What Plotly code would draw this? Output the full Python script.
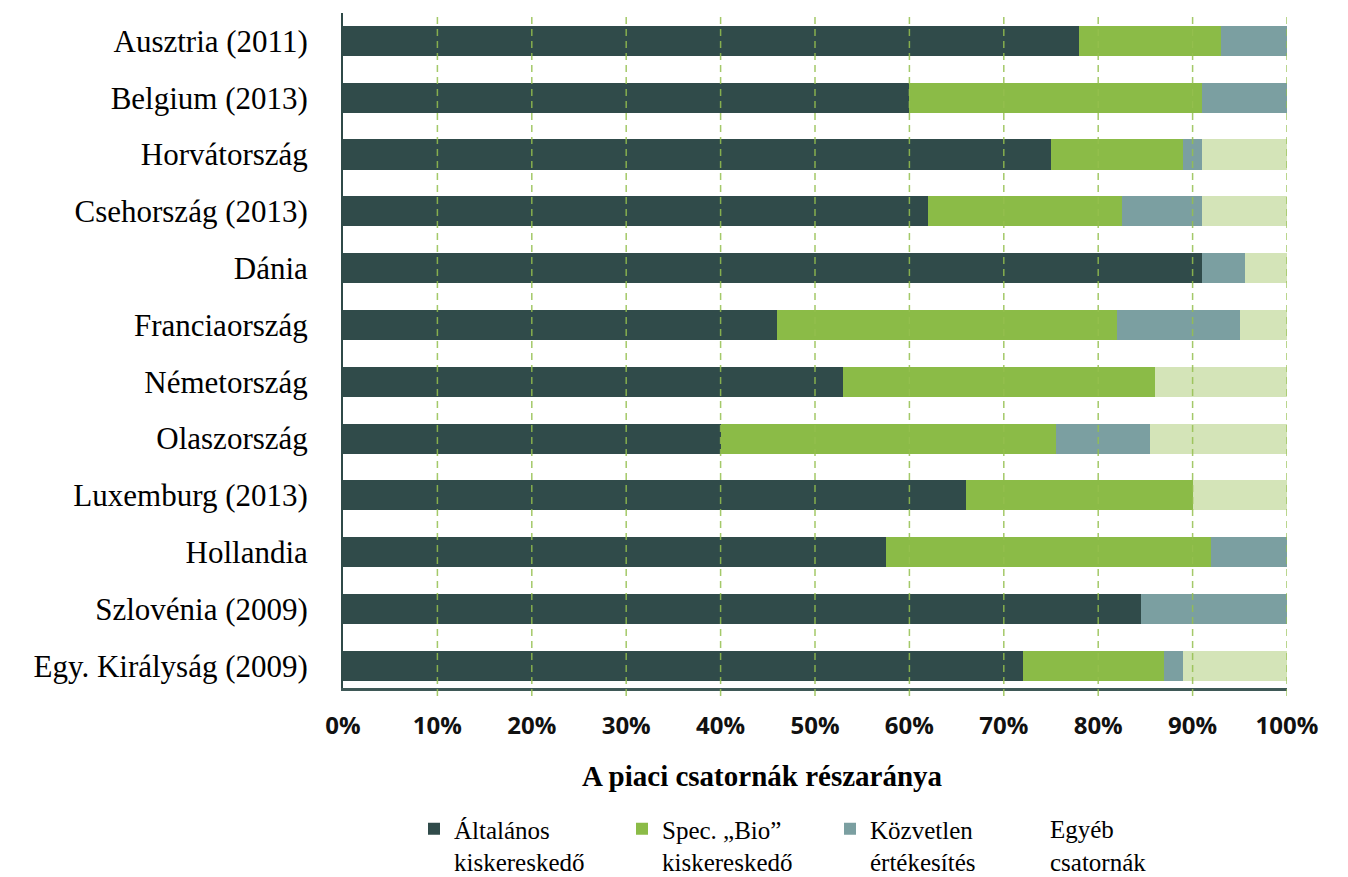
import plotly.graph_objects as go

countries = ["Ausztria (2011)", "Belgium (2013)", "Horvátország", "Csehország (2013)",
             "Dánia", "Franciaország", "Németország", "Olaszország",
             "Luxemburg (2013)", "Hollandia", "Szlovénia (2009)", "Egy. Királyság (2009)"]

altalanos = [78, 60, 75, 62, 91, 46, 53, 40, 66, 57.5, 84.5, 72]
bio = [15, 31, 14, 20.5, 0, 36, 33, 35.5, 24, 34.5, 0, 15]
kozvetlen = [7, 9, 2, 8.5, 4.5, 13, 0, 10, 0, 8, 15.5, 2]
egyeb = [0, 0, 9, 9, 4.5, 5, 14, 14.5, 10, 0, 0, 11]

series_names = ["Általános<br>kiskereskedő", "Spec. „Bio”<br>kiskereskedő",
                "Közvetlen<br>értékesítés", "Egyéb<br>csatornák"]
tick_vals = [0, 10, 20, 30, 40, 50, 60, 70, 80, 90, 100]
tick_text = ["0%", "10%", "20%", "30%", "40%", "50%", "60%", "70%", "80%", "90%", "100%"]

colors = ["#304b4a", "#8bbb47", "#7b9fa1", "#d4e4b8"]

fig = go.Figure()
for vals, name, col in zip([altalanos, bio, kozvetlen, egyeb], series_names, colors):
    fig.add_trace(go.Bar(x=vals, y=countries, orientation="h", name=name,
                         marker=dict(color=col, line=dict(width=0)),
                         showlegend=False))
# legend entries (the last category has no swatch in the original, it is added as text)
for name, col in zip(series_names[:3], colors[:3]):
    fig.add_trace(go.Bar(x=[None], y=[countries[0]], orientation="h", name=name,
                         marker=dict(color=col, line=dict(width=0)), showlegend=True))

fig.add_annotation(text=series_names[3], xref="paper", yref="paper",
                   x=(1048 - 343) / 944, xanchor="left", align="left",
                   y=-(814 - 688) / 675, yanchor="top", showarrow=False,
                   font=dict(family="Liberation Serif", size=25, color="#000"))

# dashed gridlines drawn above the bars
for v in tick_vals[1:]:
    fig.add_shape(type="line", xref="x", yref="paper", x0=v, x1=v, y0=-0.012, y1=1.0,
                  line=dict(color="#95c04f", width=1.5, dash="7px,5px"), layer="above",
                  opacity=0.85)

fig.add_annotation(text="<b>A piaci csatornák részaránya</b>", xref="paper", yref="paper",
                   x=0.444, y=-0.157, showarrow=False,
                   font=dict(family="Liberation Serif", size=29, color="#000"))

fig.update_layout(
    width=1348, height=877,
    margin=dict(l=343, r=61, t=13, b=189, autoexpand=False),
    paper_bgcolor="white", plot_bgcolor="white",
    barmode="stack", bargap=0.47,
    xaxis=dict(range=[0, 100], tickvals=tick_vals, ticktext=tick_text,
               showgrid=False, zeroline=False, showline=True, linecolor="#3f5957",
               linewidth=3, ticks="", ticklabelstandoff=14,
               tickfont=dict(family="Open Sans", size=24, color="#111", weight="bold")),
    yaxis=dict(categoryorder="array", categoryarray=countries,
               range=[11.39, -0.49], showgrid=False, zeroline=False,
               showline=True, linecolor="#2f4a48", linewidth=2, ticks="",
               ticklabelstandoff=27,
               tickfont=dict(family="Liberation Serif", size=31, color="#000")),
    legend=dict(orientation="h", xref="container", yref="container",
                x=414 / 1348, xanchor="left", y=1 - 806 / 877, yanchor="top",
                entrywidth=163, entrywidthmode="pixels", valign="top",
                traceorder="normal",
                font=dict(family="Liberation Serif", size=25, color="#000"),
                bgcolor="rgba(0,0,0,0)"),
    showlegend=True,
)

fig.write_html("out.html")
